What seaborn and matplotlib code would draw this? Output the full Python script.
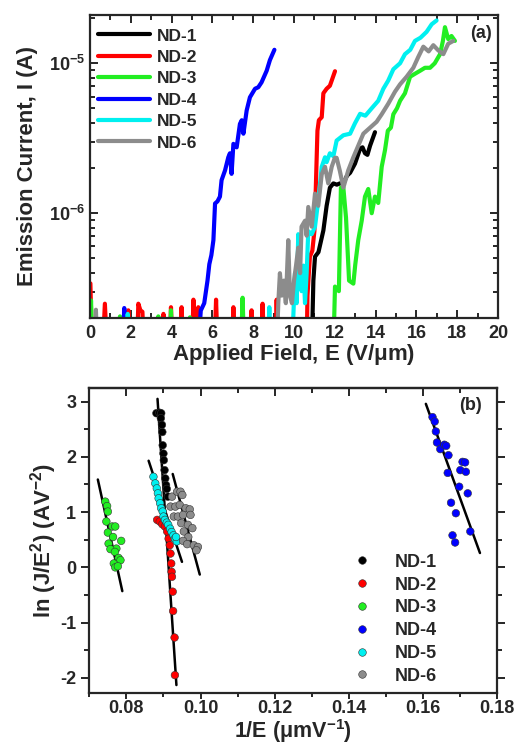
import numpy as np
import pandas as pd
import seaborn as sns
import matplotlib.pyplot as plt
from matplotlib.ticker import MultipleLocator, LogLocator, NullFormatter

# ---------------- data: (a) emission current vs applied field ----------------
names = ['ND-1', 'ND-2', 'ND-3', 'ND-4', 'ND-5', 'ND-6']
colors = ['#000000', '#ff0000', '#22ee22', '#0000ff', '#00f0f0', '#8c8c8c']

nd1_E = [10.8, 10.87, 10.95, 11.03, 11.2, 11.44, 11.6, 11.76, 11.93, 12.1, 12.25, 12.42,
         12.6, 12.75, 12.99, 13.24, 13.36, 13.48, 13.6, 13.73, 13.97]
nd1_I = [1.2e-7, 1.2e-7, 3.55e-7, 5.13e-7, 5.5e-7, 7.67e-7, 1.12e-6, 1.48e-6, 1.58e-6, 1.55e-6,
         1.58e-6, 1.58e-6, 1.78e-6, 1.86e-6, 2.14e-6, 2.69e-6, 2.75e-6, 2.51e-6, 2.45e-6,
         2.82e-6, 3.47e-6]

nd2_E = [0.0, 0.02, 0.1, 0.62, 0.73, 0.84, 1.8, 1.88, 1.96, 2.3, 2.37, 2.47, 2.57, 2.65,
         3.5, 3.6, 3.68, 3.9, 3.97, 4.05, 4.42, 4.49, 4.57, 5.0, 5.07, 5.2, 5.31, 5.4,
         6.1, 6.18, 6.26, 6.95, 7.03, 7.11, 7.85, 7.92, 8.0, 8.38, 8.46, 8.54, 9.08, 9.15,
         9.23, 10.62, 10.66, 10.78, 10.9, 11.0, 11.07, 11.15, 11.22, 11.36, 11.44, 11.6,
         11.76, 11.85, 12.01]
nd2_I = [3.4e-7, 3.4e-7, 1.2e-7, 1.2e-7, 2.49e-7, 1.2e-7, 1.2e-7, 2.25e-7, 1.2e-7, 1.2e-7,
         2.49e-7, 2.25e-7, 2.2e-7, 1.2e-7, 1.2e-7, 2.13e-7, 1.2e-7, 1.2e-7, 2.36e-7, 1.2e-7,
         1.2e-7, 2.36e-7, 1.2e-7, 1.2e-7, 2.65e-7, 1.2e-7, 2.36e-7, 1.2e-7, 1.2e-7, 2.65e-7,
         1.2e-7, 1.2e-7, 2.36e-7, 1.2e-7, 1.2e-7, 2.25e-7, 1.2e-7, 1.2e-7, 2.49e-7, 1.2e-7,
         1.2e-7, 2.65e-7, 1.2e-7, 1.2e-7, 2.82e-7, 5.13e-7, 5.62e-7, 7.59e-7, 1.48e-6,
         3.55e-6, 4.17e-6, 4.37e-6, 6.31e-6, 6.76e-6, 7.08e-6, 7.67e-6, 8.85e-6]

nd3_E = [0.0, 0.05, 0.12, 1.4, 1.47, 1.54, 3.28, 3.35, 3.42, 3.9, 3.97, 4.04, 4.83, 4.9,
         4.97, 7.4, 7.48, 7.56, 11.93, 12.01, 12.2, 12.3, 12.42, 12.55, 12.7, 12.91, 13.0,
         13.15, 13.32, 13.48, 13.64, 13.81, 13.97, 14.13, 14.3, 14.46, 14.6, 14.75, 14.87,
         15.05, 15.2, 15.44, 15.69, 15.93, 16.18, 16.42, 16.67, 16.9, 17.16, 17.3, 17.4,
         17.56, 17.72, 17.89]
nd3_I = [1.2e-7, 2.62e-7, 1.2e-7, 1.2e-7, 2.05e-7, 1.2e-7, 1.2e-7, 2.05e-7, 1.2e-7, 1.2e-7,
         2.25e-7, 1.2e-7, 1.2e-7, 2.02e-7, 1.2e-7, 1.2e-7, 2.73e-7, 1.2e-7, 1.2e-7, 3.24e-7,
         3.02e-7, 1.48e-6, 1.48e-6, 9.33e-7, 3.55e-7, 3.39e-7, 4.5e-7, 6.61e-7, 8.91e-7,
         1.29e-6, 1.45e-6, 1.0e-6, 1.29e-6, 1.17e-6, 2.04e-6, 2.63e-6, 3.55e-6, 3.72e-6,
         4.57e-6, 5.01e-6, 5.62e-6, 6.31e-6, 8.13e-6, 8.51e-6, 8.91e-6, 9.33e-6, 9.33e-6,
         1.0e-5, 1.15e-5, 1.41e-5, 1.74e-5, 1.45e-5, 1.52e-5, 1.41e-5]

nd4_E = [0.0, 1.6, 1.68, 1.76, 5.3, 5.43, 5.6, 5.76, 5.85, 5.95, 6.05, 6.13, 6.25, 6.37,
         6.45, 6.62, 6.78, 6.86, 6.94, 7.03, 7.19, 7.35, 7.44, 7.52, 7.68, 7.84, 8.09, 8.25,
         8.41, 8.66, 8.82, 9.04]
nd4_I = [1.2e-7, 1.2e-7, 2.33e-7, 1.2e-7, 1.2e-7, 2.24e-7, 2.51e-7, 3.55e-7, 4.57e-7,
         5.25e-7, 6.61e-7, 1.16e-6, 1.2e-6, 1.29e-6, 1.66e-6, 1.93e-6, 2.36e-6, 2.51e-6,
         1.83e-6, 2.9e-6, 2.75e-6, 3.94e-6, 4.17e-6, 3.39e-6, 4.84e-6, 5.93e-6, 6.76e-6,
         6.92e-6, 7.46e-6, 8.91e-6, 1.05e-5, 1.23e-5]

nd5_E = [1.78, 1.85, 1.92, 8.72, 8.79, 8.86, 9.9, 10.05, 10.13, 10.21, 10.3, 10.37, 10.46,
         10.54, 10.62, 10.7, 10.87, 11.03, 11.19, 11.36, 11.52, 11.6, 11.76, 11.93, 12.09,
         12.42, 12.75, 12.99, 13.24, 13.5, 13.81, 14.13, 14.38, 14.62, 14.87, 15.2, 15.44,
         15.7, 15.93, 16.2, 16.5, 16.75, 16.99]
nd5_I = [1.2e-7, 2.13e-7, 1.2e-7, 1.2e-7, 2.36e-7, 1.2e-7, 1.2e-7, 3.98e-7, 2.51e-7,
         7.24e-7, 3.55e-7, 3.02e-7, 4.47e-7, 2.51e-7, 3.98e-7, 7.59e-7, 7.24e-7, 8.13e-7,
         1.22e-6, 2.04e-6, 2.36e-6, 2.19e-6, 2.51e-6, 2.4e-6, 3.05e-6, 3.31e-6, 3.39e-6,
         3.98e-6, 4.6e-6, 4.47e-6, 5.01e-6, 5.62e-6, 6.76e-6, 7.67e-6, 9.12e-6, 1.0e-5,
         1.15e-5, 1.23e-5, 1.41e-5, 1.48e-5, 1.62e-5, 1.82e-5, 1.93e-5]

nd6_E = [0.22, 0.29, 0.36, 9.15, 9.23, 9.31, 9.4, 9.5, 9.6, 9.72, 9.8, 9.9, 10.0, 10.1,
         10.21, 10.3, 10.37, 10.54, 10.62, 10.7, 10.87, 11.03, 11.19, 11.36, 11.52, 11.68,
         11.85, 12.0, 12.09, 12.25, 12.42, 12.66, 12.91, 13.15, 13.4, 13.73, 14.05, 14.3,
         14.62, 14.95, 15.2, 15.52, 15.85, 16.09, 16.34, 16.6, 16.83, 17.07, 17.32, 17.56,
         17.81]
nd6_I = [1.2e-7, 2.27e-7, 1.2e-7, 1.2e-7, 2.51e-7, 3.98e-7, 2.82e-7, 3.55e-7, 2.51e-7,
         6.61e-7, 2.82e-7, 2.51e-7, 3.55e-7, 4.47e-7, 5.89e-7, 3.98e-7, 8.13e-7, 8.91e-7,
         7.08e-7, 1.1e-6, 8.13e-7, 1.35e-6, 1.12e-6, 1.82e-6, 2.04e-6, 1.58e-6, 2.04e-6,
         2.34e-6, 2.34e-6, 1.91e-6, 1.48e-6, 1.93e-6, 2.36e-6, 2.82e-6, 3.39e-6, 3.72e-6,
         4.07e-6, 4.57e-6, 5.37e-6, 6.46e-6, 7.24e-6, 8.13e-6, 9.33e-6, 1.1e-5, 1.29e-5,
         1.2e-5, 1.32e-5, 1.22e-5, 1.15e-5, 1.35e-5, 1.41e-5]

# ---------------- data: (b) F-N plot ----------------
fn1_x = [0.0881, 0.0889, 0.0894, 0.0893, 0.0896, 0.0897, 0.0898, 0.0900, 0.0901, 0.0903,
         0.0905, 0.0907, 0.0909, 0.0912]
fn1_y = [2.79, 2.80, 2.79, 2.70, 2.58, 2.45, 2.21, 2.06, 1.94, 1.76, 1.61, 1.49, 1.42, 1.28]
fn2_x = [0.0883, 0.0890, 0.0897, 0.0904, 0.0910, 0.0914, 0.0917, 0.0919, 0.0921, 0.0922,
         0.0923, 0.0925, 0.0926, 0.0930, 0.0931]
fn2_y = [0.86, 0.83, 0.78, 0.74, 0.65, 0.52, 0.40, 0.25, 0.07, -0.08, -0.17, -0.44, -0.79,
         -1.27, -1.95]
fn3_x = [0.0743, 0.0748, 0.0750, 0.0746, 0.0762, 0.0770, 0.0750, 0.0764, 0.0752, 0.0773,
         0.0786, 0.0757, 0.0769, 0.0779, 0.0784, 0.0766, 0.0770, 0.0777]
fn3_y = [1.19, 1.11, 1.01, 0.83, 0.74, 0.74, 0.63, 0.55, 0.43, 0.34, 0.48, 0.33, 0.28, 0.17,
         0.13, 0.07, 0.0, 0.02]
fn4_x = [0.1626, 0.1632, 0.1635, 0.1638, 0.1647, 0.1658, 0.1663, 0.1669, 0.1667, 0.1707,
         0.1714, 0.1701, 0.1716, 0.1698, 0.1721, 0.1676, 0.1689, 0.1728, 0.1680, 0.1687]
fn4_y = [2.72, 2.64, 2.46, 2.26, 2.14, 2.22, 2.20, 2.03, 1.71, 1.91, 1.90, 1.76, 1.73, 1.46,
         1.34, 1.17, 0.98, 0.65, 0.58, 0.45]
fn5_x = [0.0873, 0.0878, 0.0882, 0.0885, 0.0887, 0.0891, 0.0894, 0.0898, 0.0900, 0.0904,
         0.0909, 0.0913, 0.0918, 0.0922, 0.0927, 0.0931, 0.0936, 0.0934]
fn5_y = [1.64, 1.52, 1.43, 1.34, 1.25, 1.16, 1.07, 1.01, 0.92, 0.86, 0.81, 0.77, 0.70, 0.64,
         0.58, 0.52, 0.47, 0.55]
fn6_x = [0.0923, 0.0937, 0.0946, 0.0951, 0.0919, 0.0932, 0.0944, 0.0960, 0.0971, 0.0928,
         0.0939, 0.0953, 0.0973, 0.0948, 0.0966, 0.0978, 0.0955, 0.0967, 0.0953, 0.0964,
         0.0982, 0.0993, 0.0989]
fn6_y = [1.28, 1.37, 1.37, 1.31, 1.10, 1.10, 1.13, 1.07, 1.05, 0.92, 0.92, 0.95, 0.95, 0.80,
         0.77, 0.71, 0.65, 0.55, 0.48, 0.42, 0.40, 0.37, 0.31]

# linear fit lines, end points
fit_x = {'ND-1': [0.0884, 0.0907], 'ND-2': [0.0905, 0.0935], 'ND-3': [0.0723, 0.0789],
         'ND-4': [0.1608, 0.1754], 'ND-5': [0.0860, 0.0950], 'ND-6': [0.0925, 0.0998]}
fit_y = {'ND-1': [3.05, 0.71], 'ND-2': [0.92, -2.13], 'ND-3': [1.59, -0.43],
         'ND-4': [2.96, 0.26], 'ND-5': [1.93, 0.10], 'ND-6': [1.69, -0.13]}

# ---------------- frames ----------------
Es = [nd1_E, nd2_E, nd3_E, nd4_E, nd5_E, nd6_E]
Is = [nd1_I, nd2_I, nd3_I, nd4_I, nd5_I, nd6_I]
dfa = pd.concat([pd.DataFrame({'E': e, 'I': i, 'sample': n}) for e, i, n in zip(Es, Is, names)],
                ignore_index=True)

xs = [fn1_x, fn2_x, fn3_x, fn4_x, fn5_x, fn6_x]
ys = [fn1_y, fn2_y, fn3_y, fn4_y, fn5_y, fn6_y]
dfb = pd.concat([pd.DataFrame({'x': a, 'y': b, 'sample': n}) for a, b, n in zip(xs, ys, names)],
                ignore_index=True)
dff = pd.concat([pd.DataFrame({'x': fit_x[n], 'y': fit_y[n], 'sample': n}) for n in names],
                ignore_index=True)

# ---------------- style ----------------
sns.set_style('ticks')
plt.rcParams['font.family'] = ['Liberation Sans', 'DejaVu Sans']
plt.rcParams['font.weight'] = 'bold'
plt.rcParams['axes.labelweight'] = 'bold'
plt.rcParams['axes.unicode_minus'] = False
plt.rcParams['mathtext.fontset'] = 'custom'
plt.rcParams['mathtext.rm'] = 'Liberation Sans:bold'
plt.rcParams['mathtext.it'] = 'Liberation Sans:bold'
plt.rcParams['mathtext.bf'] = 'Liberation Sans:bold'
plt.rcParams['axes.linewidth'] = 1.6

pal = dict(zip(names, colors))

fig = plt.figure(figsize=(5.16, 7.44), dpi=100)
ax1 = fig.add_axes([0.1744, 0.5726, 0.7907, 0.4073])
ax2 = fig.add_axes([0.1731, 0.0681, 0.7901, 0.4099])

# ---- (a)
sns.lineplot(data=dfa, x='E', y='I', hue='sample', palette=pal, sort=False,
             estimator=None, lw=3, ax=ax1)
ax1.set_yscale('log')
ax1.set_xlim(0, 20)
ax1.set_ylim(2e-7, 2.1e-5)
ax1.xaxis.set_major_locator(MultipleLocator(2))
ax1.xaxis.set_minor_locator(MultipleLocator(1))
ax1.yaxis.set_major_locator(LogLocator(base=10))
ax1.yaxis.set_minor_locator(LogLocator(base=10, subs=np.arange(2, 10)))
ax1.yaxis.set_minor_formatter(NullFormatter())
ax1.tick_params(which='both', direction='in', top=True, right=True, width=1.4, labelsize=13)
ax1.tick_params(which='major', length=6)
ax1.tick_params(which='minor', length=3.5)
ax1.tick_params(axis='x', pad=5)
ax1.set_xlabel('Applied Field, E (V/$\\mu$m)', fontsize=16, labelpad=0)
ax1.set_ylabel('Emission Current, I (A)', fontsize=16, labelpad=8)
ax1.text(0.985, 0.94, '(a)', transform=ax1.transAxes, ha='right', va='center',
         fontsize=13, fontweight='bold')
h, l = ax1.get_legend_handles_labels()
ax1.legend(h, l, loc='upper left', bbox_to_anchor=(-0.005, 0.99), frameon=False,
           fontsize=12.5, handlelength=3.0, handletextpad=0.35, labelspacing=0.36,
           borderaxespad=0.2)

# ---- (b)
sns.lineplot(data=dff, x='x', y='y', units='sample', estimator=None, sort=False,
             color='black', lw=1.8, ax=ax2, legend=False)
sns.scatterplot(data=dfb, x='x', y='y', hue='sample', palette=pal, s=30,
                edgecolor='#333333', linewidth=0.4, ax=ax2, zorder=3)
ax2.set_xlim(0.07, 0.18)
ax2.set_ylim(-2.28, 3.24)
ax2.xaxis.set_major_locator(MultipleLocator(0.02))
ax2.xaxis.set_minor_locator(MultipleLocator(0.01))
ax2.yaxis.set_major_locator(MultipleLocator(1))
ax2.yaxis.set_minor_locator(MultipleLocator(0.5))
ax2.xaxis.set_major_formatter(plt.FormatStrFormatter('%.2f'))
ax2.tick_params(which='both', direction='out', top=False, right=True, width=1.4, labelsize=13)
ax2.tick_params(which='major', length=6)
ax2.tick_params(which='minor', length=3.5)
ax2.tick_params(axis='x', which='major', length=4.5, pad=0.5)
ax2.tick_params(axis='x', which='minor', length=3)
sec = ax2.secondary_xaxis('top')
sec.xaxis.set_major_locator(MultipleLocator(0.02))
sec.xaxis.set_minor_locator(MultipleLocator(0.01))
sec.tick_params(which='both', direction='in', labeltop=False, width=1.4)
sec.tick_params(which='major', length=6)
sec.tick_params(which='minor', length=3.5)
ax2.set_xlabel('1/E ($\\mu$mV$^{-1}$)', fontsize=15.5, labelpad=0)
ax2.set_ylabel('ln (J/E$^{2}$) (AV$^{-2}$)', fontsize=16, labelpad=1)
ax2.text(0.963, 0.945, '(b)', transform=ax2.transAxes, ha='right', va='center',
         fontsize=13, fontweight='bold')
h, l = ax2.get_legend_handles_labels()
ax2.legend(h, l, loc='lower left', bbox_to_anchor=(0.585, -0.025), frameon=False,
           fontsize=13, handletextpad=0.8, labelspacing=0.32, markerscale=1.0)

fig.savefig('out.png', dpi=100)
